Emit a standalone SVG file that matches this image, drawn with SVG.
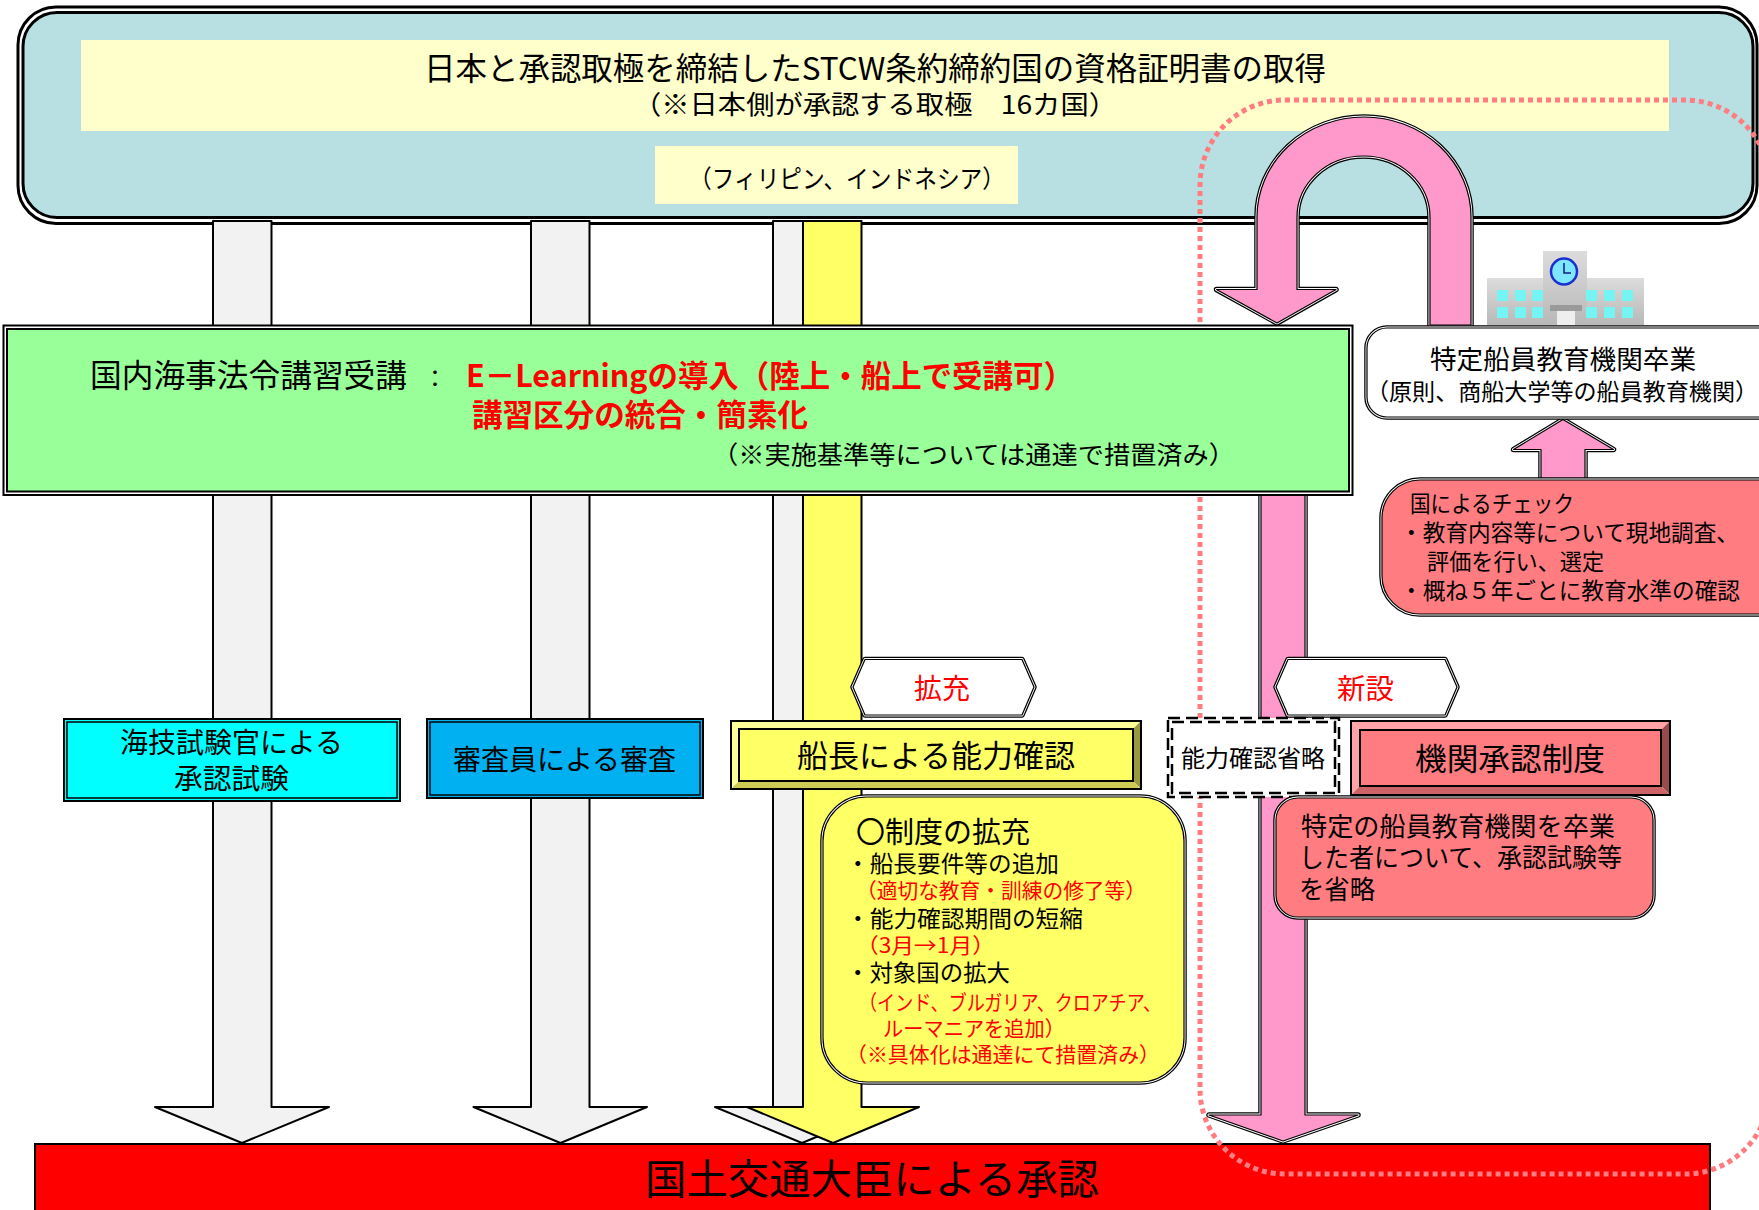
<svg xmlns="http://www.w3.org/2000/svg" width="1759" height="1210" viewBox="0 0 1759 1210">
<style>
text{font-family:"Noto Sans CJK JP","Noto Sans",sans-serif;fill:#000}
.r{fill:#f00}
.b{font-weight:700}
.gr{fill:#f2f2f2;stroke:#000;stroke-width:2;stroke-linejoin:round}
.o3{stroke:#000;stroke-width:5.500;stroke-linejoin:round}
.o2{stroke:#fff;stroke-width:3;stroke-linejoin:round}
.o1{stroke:#000;stroke-width:1.200;stroke-linejoin:round}
.win{fill:#75f4f4}
.dash{fill:none;stroke:#000;stroke-width:2.500;stroke-dasharray:12 6}
</style>
<defs>
<linearGradient id="bld" x1="0" y1="0" x2="0" y2="1"><stop offset="0" stop-color="#dcdcdc"/><stop offset="1" stop-color="#b8b8b8"/></linearGradient>
<path id="uarrow" d="M1471 325V217A107 100 0 0 0 1257 217V289.500H1216.500L1277 323L1336 289.500H1297V217A66.500 61 0 0 1 1430 217V325Z"/>
<path id="larrow" d="M1261 490H1305V1115H1358L1283 1141L1209 1115H1261Z"/>
<path id="sarrow" d="M1541 479V449.500H1513.500L1563 419.500L1613.500 449.500H1585V479Z"/>
<polygon id="hex1" points="853,687 865,659.500 1022,659.500 1034,687 1022,715 865,715"/>
<polygon id="hex2" points="1276,687 1288,659.500 1445,659.500 1457,687 1445,715 1288,715"/>
<rect id="rrw" x="1367" y="328" width="420" height="89" rx="20"/>
<rect id="rrc" x="1382" y="480" width="420" height="134" rx="38"/>
<rect id="rry" x="823" y="797" width="361" height="285" rx="44"/>
<rect id="rrp" x="1276" y="798" width="377" height="119" rx="22"/>
</defs>

<g id="node-top">
<rect x="18" y="7" width="1739" height="216.500" rx="38" fill="#fff" stroke="#000" stroke-width="3"/>
<rect x="23" y="12.500" width="1730" height="205" rx="34" fill="#b8dfe2" stroke="#000" stroke-width="3"/>
<rect x="81" y="40" width="1588" height="91" fill="#ffc"/>
<rect x="655" y="146" width="363" height="58" fill="#ffc"/>
<text x="424" y="80" font-size="31.500" textLength="902" lengthAdjust="spacingAndGlyphs">日本と承認取極を締結したSTCW条約締約国の資格証明書の取得</text>
<text x="633" y="114" font-size="26" textLength="484" lengthAdjust="spacingAndGlyphs">（※日本側が承認する取極　16カ国）</text>
<text x="689" y="188" font-size="25" textLength="316" lengthAdjust="spacingAndGlyphs">（フィリピン、インドネシア）</text>
</g>

<g id="node-minister">
<rect x="35" y="1144" width="1675" height="70" fill="#f00" stroke="#000" stroke-width="2"/>
<text x="645" y="1194" font-size="41" textLength="454" lengthAdjust="spacingAndGlyphs">国土交通大臣による承認</text>
</g>

<g id="frame-dotted">
<rect x="1200" y="100" width="570" height="1074" rx="85" fill="none" stroke="#ff7c80" stroke-width="5" stroke-dasharray="5 4"/>
</g>

<g id="connectors">
<path class="gr" d="M213 221H271.500V1107H329L242 1143L155 1107H213Z"/>
<path class="gr" d="M531 221H589.500V1107H647L560.500 1143L473.500 1107H531Z"/>
<path class="gr" d="M773 221H831V1107H888L802 1143L715 1107H773Z"/>
<path d="M803 221H861.500V1107H919L833 1143L747 1107H803Z" fill="#ff6" stroke="#000" stroke-width="2" stroke-linejoin="round"/>
<use href="#larrow" class="o3" fill="none"/><use href="#larrow" class="o2" fill="none"/><use href="#larrow" class="o1" fill="#f9c"/>
<use href="#uarrow" class="o3" fill="none"/><use href="#uarrow" class="o2" fill="none"/><use href="#uarrow" class="o1" fill="#f9c"/>
<use href="#sarrow" class="o3" fill="none"/><use href="#sarrow" class="o2" fill="none"/><use href="#sarrow" class="o1" fill="#f9c"/>
</g>

<g id="node-green">
<rect x="3.500" y="325.500" width="1349" height="169.500" fill="#fff" stroke="#000" stroke-width="2"/>
<rect x="7" y="329" width="1342" height="162.500" fill="#9f9" stroke="#000" stroke-width="2"/>
<text x="90" y="387" font-size="31.500" textLength="317" lengthAdjust="spacingAndGlyphs">国内海事法令講習受講</text>
<text x="423" y="387" font-size="24">：</text>
<text class="r b" x="466" y="387" font-size="31" textLength="608" lengthAdjust="spacingAndGlyphs">E－Learningの導入（陸上・船上で受講可）</text>
<text class="r b" x="472" y="426" font-size="31" textLength="336" lengthAdjust="spacingAndGlyphs">講習区分の統合・簡素化</text>
<text x="712" y="464" font-size="25" textLength="523" lengthAdjust="spacingAndGlyphs">（※実施基準等については通達で措置済み）</text>
</g>

<g id="node-examiner">
<rect x="64" y="719" width="336" height="82" fill="#0ff" stroke="#000" stroke-width="2"/>
<rect x="67" y="722" width="330" height="76" fill="#0ff" stroke="#000" stroke-width="1.500"/>
<text x="120" y="753" font-size="28" textLength="223" lengthAdjust="spacingAndGlyphs">海技試験官による</text>
<text x="174" y="789" font-size="28" textLength="115" lengthAdjust="spacingAndGlyphs">承認試験</text>
</g>

<g id="node-reviewer">
<rect x="427" y="719" width="276" height="79" fill="#00b0f0" stroke="#000" stroke-width="2"/>
<rect x="430" y="722" width="270" height="73" fill="#00b0f0" stroke="#000" stroke-width="1.500"/>
<text x="453" y="770" font-size="28" textLength="223" lengthAdjust="spacingAndGlyphs">審査員による審査</text>
</g>

<g id="node-captain">
<polygon points="731,721 1141,721 1133,729 739,729" fill="#ff9"/>
<polygon points="731,721 739,729 739,781 731,789" fill="#ff9"/>
<polygon points="1141,721 1133,729 1133,781 1141,789" fill="#99993d"/>
<polygon points="731,789 739,781 1133,781 1141,789" fill="#cc5"/>
<rect x="739" y="729" width="394" height="52" fill="#ff6" stroke="#000" stroke-width="2"/>
<rect x="731" y="721" width="410" height="68" fill="none" stroke="#000" stroke-width="2"/>
<text x="797" y="767" font-size="31" textLength="278" lengthAdjust="spacingAndGlyphs">船長による能力確認</text>
</g>

<g id="node-expand-tag">
<use href="#hex1" class="o3" fill="none"/><use href="#hex1" class="o2" fill="none"/><use href="#hex1" class="o1" fill="#fff"/>
<text class="r" x="914" y="699" font-size="28" textLength="56" lengthAdjust="spacingAndGlyphs">拡充</text>
</g>

<g id="node-new-tag">
<use href="#hex2" class="o3" fill="none"/><use href="#hex2" class="o2" fill="none"/><use href="#hex2" class="o1" fill="#fff"/>
<text class="r" x="1337" y="699" font-size="28" textLength="57" lengthAdjust="spacingAndGlyphs">新設</text>
</g>

<g id="node-omit">
<rect x="1168" y="718" width="171" height="79" fill="#fff"/>
<rect class="dash" x="1168" y="718" width="171" height="79"/>
<rect class="dash" x="1172" y="722" width="163" height="71"/>
<text x="1181" y="767" font-size="24" textLength="144" lengthAdjust="spacingAndGlyphs">能力確認省略</text>
</g>

<g id="node-institution">
<polygon points="1351,721 1670,721 1661,730 1360,730" fill="#ffa3a6"/>
<polygon points="1351,721 1360,730 1360,786 1351,795" fill="#ffa3a6"/>
<polygon points="1670,721 1661,730 1661,786 1670,795" fill="#994a4d"/>
<polygon points="1351,795 1360,786 1661,786 1670,795" fill="#cc6366"/>
<rect x="1360" y="730" width="301" height="56" fill="#ff7c80" stroke="#000" stroke-width="2"/>
<rect x="1351" y="721" width="319" height="74" fill="none" stroke="#000" stroke-width="2"/>
<text x="1415" y="770" font-size="31" textLength="190" lengthAdjust="spacingAndGlyphs">機関承認制度</text>
</g>

<g id="node-expand-note">
<use href="#rry" class="o3" fill="none"/><use href="#rry" class="o2" fill="none"/><use href="#rry" class="o1" fill="#ff6"/>
<text x="856" y="843" font-size="29" textLength="174" lengthAdjust="spacingAndGlyphs">〇制度の拡充</text>
<text x="846" y="872" font-size="23" textLength="213" lengthAdjust="spacingAndGlyphs">・船長要件等の追加</text>
<text class="r" x="856" y="898" font-size="21" textLength="290" lengthAdjust="spacingAndGlyphs">（適切な教育・訓練の修了等）</text>
<text x="846" y="927" font-size="23" textLength="237" lengthAdjust="spacingAndGlyphs">・能力確認期間の短縮</text>
<text class="r" x="856" y="953" font-size="21" textLength="139" lengthAdjust="spacingAndGlyphs">（3月→1月）</text>
<text x="846" y="981" font-size="23" textLength="164" lengthAdjust="spacingAndGlyphs">・対象国の拡大</text>
<text class="r" x="859" y="1010" font-size="21" textLength="302" lengthAdjust="spacingAndGlyphs">（インド、ブルガリア、クロアチア、</text>
<text class="r" x="883" y="1036" font-size="21" textLength="182" lengthAdjust="spacingAndGlyphs">ルーマニアを追加）</text>
<text class="r" x="846" y="1062" font-size="21" textLength="314" lengthAdjust="spacingAndGlyphs">（※具体化は通達にて措置済み）</text>
</g>

<g id="node-new-note">
<use href="#rrp" class="o3" fill="none"/><use href="#rrp" class="o2" fill="none"/><use href="#rrp" class="o1" fill="#ff7c80"/>
<text x="1301" y="836" font-size="26" textLength="314" lengthAdjust="spacingAndGlyphs">特定の船員教育機関を卒業</text>
<text x="1299" y="867" font-size="26" textLength="323" lengthAdjust="spacingAndGlyphs">した者について、承認試験等</text>
<text x="1299" y="899" font-size="26" textLength="76" lengthAdjust="spacingAndGlyphs">を省略</text>
</g>

<g id="node-school">
<rect x="1487" y="278" width="157" height="47" fill="url(#bld)"/>
<rect x="1543" y="251" width="44" height="74" fill="url(#bld)"/>
<circle cx="1564" cy="271.500" r="13" fill="#7fe6ff" stroke="#1a2fd0" stroke-width="2.500"/>
<path d="M1564 263V273H1571" fill="none" stroke="#102080" stroke-width="1.500"/>
<rect class="win" x="1497" y="290" width="11" height="11"/><rect class="win" x="1515" y="290" width="11" height="11"/><rect class="win" x="1532" y="290" width="11" height="11"/>
<rect class="win" x="1586" y="290" width="11" height="11"/><rect class="win" x="1604" y="290" width="11" height="11"/><rect class="win" x="1622" y="290" width="11" height="11"/>
<rect class="win" x="1497" y="307" width="11" height="11"/><rect class="win" x="1515" y="307" width="11" height="11"/><rect class="win" x="1532" y="307" width="11" height="11"/>
<rect class="win" x="1586" y="307" width="11" height="11"/><rect class="win" x="1604" y="307" width="11" height="11"/><rect class="win" x="1622" y="307" width="11" height="11"/>
<rect x="1550" y="305" width="32" height="6" fill="#9a9a9a"/>
<rect x="1557" y="311" width="18" height="14" fill="#eee"/>
</g>

<g id="node-graduate">
<use href="#rrw" class="o3" fill="none"/><use href="#rrw" class="o2" fill="none"/><use href="#rrw" class="o1" fill="#fff"/>
<text x="1430" y="369" font-size="26.600" textLength="266" lengthAdjust="spacingAndGlyphs">特定船員教育機関卒業</text>
<text x="1366" y="400" font-size="23" textLength="392" lengthAdjust="spacingAndGlyphs">（原則、商船大学等の船員教育機関）</text>
</g>

<g id="node-check">
<use href="#rrc" class="o3" fill="none"/><use href="#rrc" class="o2" fill="none"/><use href="#rrc" class="o1" fill="#ff7c80"/>
<text x="1410" y="512" font-size="23" textLength="164" lengthAdjust="spacingAndGlyphs">国によるチェック</text>
<text x="1400" y="541" font-size="23" textLength="339" lengthAdjust="spacingAndGlyphs">・教育内容等について現地調査、</text>
<text x="1427" y="570" font-size="23" textLength="177" lengthAdjust="spacingAndGlyphs">評価を行い、選定</text>
<text x="1400" y="599" font-size="23" textLength="340" lengthAdjust="spacingAndGlyphs">・概ね５年ごとに教育水準の確認</text>
</g>
</svg>
